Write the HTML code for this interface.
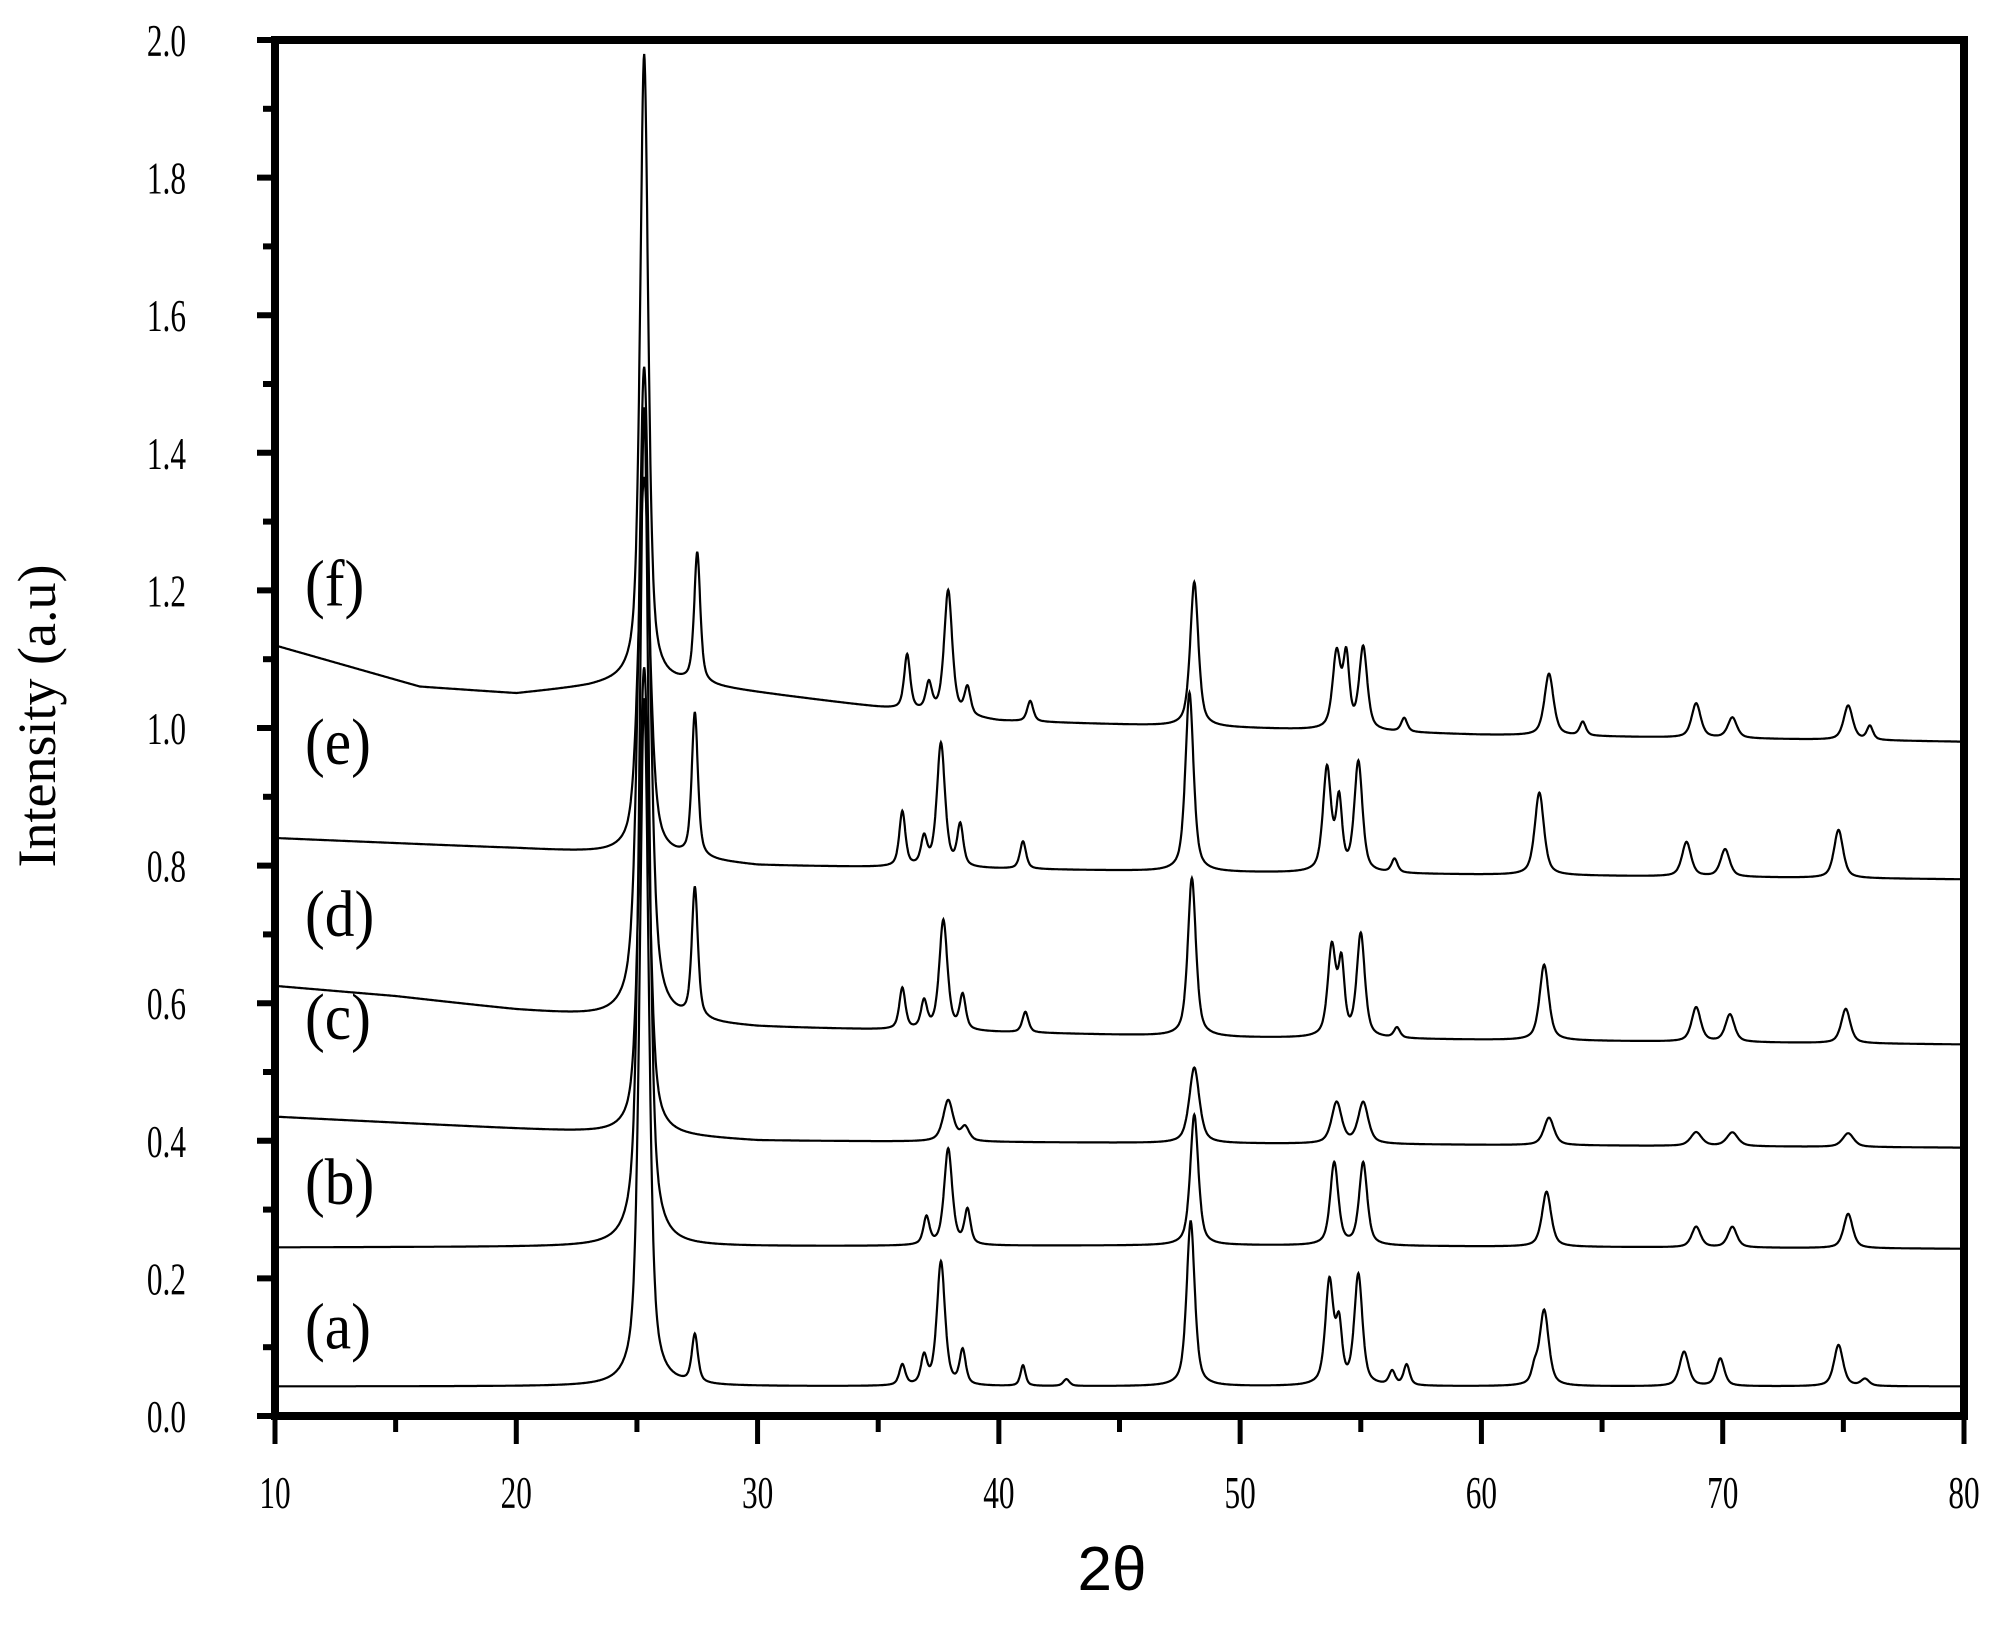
<!DOCTYPE html>
<html><head><meta charset="utf-8"><style>
html,body{margin:0;padding:0;background:#fff}
svg{display:block}
</style></head><body>
<svg id="chart" width="1996" height="1625" viewBox="0 0 1996 1625" xmlns="http://www.w3.org/2000/svg"></svg>
<script>
// ---- data ----
const seriesNames = ["a","b","c","d","e","f"];
const baseA = [[10,0.043],[80,0.043]];
const baseB = [[10,0.245],[50,0.248],[80,0.243]];
const baseC = [[10,0.435],[30,0.40],[80,0.39]];
const baseD = [[10,0.625],[15,0.61],[20,0.59],[25,0.575],[30,0.565],[50,0.55],[80,0.54]];
const baseE = [[10,0.84],[20,0.825],[25,0.815],[30,0.80],[50,0.79],[80,0.78]];
const baseF = [[10,1.12],[13,1.09],[16,1.06],[20,1.05],[23,1.06],[25,1.07],[28,1.06],[35,1.03],[40,1.01],[50,1.0],[60,0.99],[80,0.98]];
const peaksA = [[25.3,1.0,0.45],[27.4,0.07,0.3],[36.0,0.03,0.3],[36.9,0.04,0.3],[37.6,0.18,0.4],[38.5,0.05,0.3],[41.0,0.03,0.25],[42.8,0.01,0.3],[47.95,0.24,0.4],[53.7,0.15,0.4],[54.1,0.08,0.3],[54.9,0.16,0.4],[56.3,0.02,0.3],[56.9,0.03,0.3],[62.2,0.02,0.3],[62.6,0.11,0.45],[68.4,0.05,0.45],[69.9,0.04,0.4],[74.8,0.06,0.45],[75.9,0.01,0.4]];
const peaksB = [[25.3,1.22,0.45],[37.0,0.04,0.3],[37.9,0.14,0.4],[38.7,0.05,0.3],[48.1,0.19,0.4],[53.9,0.12,0.4],[55.1,0.12,0.4],[62.7,0.08,0.45],[68.9,0.03,0.45],[70.4,0.03,0.45],[75.2,0.05,0.45]];
const peaksC = [[25.3,0.68,0.5],[37.9,0.06,0.5],[38.6,0.02,0.4],[48.1,0.11,0.5],[54.0,0.06,0.5],[55.1,0.06,0.5],[62.8,0.04,0.5],[68.9,0.02,0.55],[70.4,0.02,0.55],[75.2,0.02,0.55]];
const peaksD = [[25.3,0.95,0.55],[27.4,0.19,0.3],[36.0,0.06,0.3],[36.9,0.04,0.3],[37.7,0.16,0.4],[38.5,0.05,0.3],[41.1,0.03,0.3],[48.0,0.23,0.4],[53.8,0.13,0.4],[54.2,0.10,0.3],[55.0,0.15,0.4],[56.5,0.015,0.3],[62.6,0.11,0.45],[68.9,0.05,0.45],[70.3,0.04,0.45],[75.1,0.05,0.45]];
const peaksE = [[25.3,0.55,0.55],[27.4,0.21,0.3],[36.0,0.08,0.3],[36.9,0.04,0.3],[37.6,0.18,0.4],[38.4,0.06,0.3],[41.0,0.04,0.3],[47.9,0.26,0.4],[53.6,0.15,0.4],[54.1,0.10,0.3],[54.9,0.16,0.4],[56.4,0.02,0.3],[62.4,0.12,0.45],[68.5,0.05,0.45],[70.1,0.04,0.45],[74.8,0.07,0.45]];
const peaksF = [[25.3,0.91,0.4],[27.5,0.19,0.3],[36.2,0.08,0.3],[37.1,0.04,0.3],[37.9,0.18,0.4],[38.7,0.04,0.3],[41.3,0.03,0.3],[48.1,0.21,0.4],[54.0,0.11,0.4],[54.4,0.10,0.3],[55.1,0.12,0.4],[56.8,0.02,0.3],[62.8,0.09,0.45],[64.2,0.02,0.3],[68.9,0.05,0.45],[70.4,0.03,0.45],[75.2,0.05,0.45],[76.1,0.02,0.3]];
const xTickLabels = ["10","20","30","40","50","60","70","80"];
const yTickLabels = ["0.0","0.2","0.4","0.6","0.8","1.0","1.2","1.4","1.6","1.8","2.0"];
const seriesLabels = ["(a)","(b)","(c)","(d)","(e)","(f)"];
const labelLevels = [0.13,0.34,0.58,0.73,0.98,1.21];

// ---- layout ----
const L=275,R=1964,T=40,B=1416;
const xMin=10,xMax=80,yMin=0,yMax=2;
const X=v=>L+(v-xMin)/(xMax-xMin)*(R-L);
const Y=v=>B-(v-yMin)/(yMax-yMin)*(B-T);
const svg=document.getElementById('chart');
const NS="http://www.w3.org/2000/svg";
function mk(tag,attrs){const e=document.createElementNS(NS,tag);for(const k in attrs)e.setAttribute(k,attrs[k]);svg.appendChild(e);return e;}

function interp(base,x){for(let i=0;i<base.length-1;i++){if(x<=base[i+1][0]){const t=(x-base[i][0])/(base[i+1][0]-base[i][0]);return base[i][1]+t*(base[i+1][1]-base[i][1]);}}return base[base.length-1][1];}
function val(base,peaks,x){let y=interp(base,x);for(const p of peaks){const g=p[2]/2;const d=x-p[0];y+=p[1]*(0.6*g*g/(d*d+g*g)+0.4*Math.exp(-Math.log(2)*d*d/(g*g)));}return y;}

const bases=[baseA,baseB,baseC,baseD,baseE,baseF];
const peaks=[peaksA,peaksB,peaksC,peaksD,peaksE,peaksF];
for(let s=0;s<6;s++){
  let d="";
  for(let x=xMin;x<=xMax+1e-9;x+=0.02){
    const y=Math.min(val(bases[s],peaks[s],x),1.985);
    d+=(d?"L":"M")+X(x).toFixed(1)+","+Y(y).toFixed(1);
  }
  const p=mk('path',{d:d,fill:'none',stroke:'#000','stroke-width':2.2});
  
  
  const t=mk('text',{x:0,y:0,'font-family':'Liberation Serif, serif','font-size':66,transform:`translate(305,${Y(labelLevels[s])+22}) scale(0.9,1)`});
  t.textContent=seriesLabels[s];
  
  
}

const fr=mk('rect',{x:L,y:T,width:R-L,height:B-T,fill:'none',stroke:'#000','stroke-width':8});



for(let i=0;i<=20;i++){
  const v=i*0.1,y=Y(v),len=(i%2==0)?18:12;
  const tk=mk('line',{x1:L-len,y1:y,x2:L,y2:y,stroke:'#000','stroke-width':6});
  
  
}
yTickLabels.forEach((s,i)=>{
  const t=mk('text',{x:0,y:0,'font-family':'Liberation Serif, serif','font-size':46,'text-anchor':'end',transform:`translate(186,${Y(i*0.2)+16}) scale(0.68,1)`});
  t.textContent=s;
  
  
});
for(let v=10;v<=80;v+=5){
  const len=(v%10==0)?28:16;
  const tk=mk('line',{x1:X(v),y1:B,x2:X(v),y2:B+len,stroke:'#000','stroke-width':5});
  
  
}
xTickLabels.forEach((s,i)=>{
  const t=mk('text',{x:0,y:0,'font-family':'Liberation Serif, serif','font-size':46,'text-anchor':'middle',transform:`translate(${X(10+i*10)},${1508}) scale(0.68,1)`});
  t.textContent=s;
  
  
});
const xt=mk('text',{x:1112,y:1590,'font-family':'Liberation Sans, sans-serif','font-size':62,'text-anchor':'middle'});
xt.textContent="2θ";


const yt=mk('text',{x:0,y:0,'font-family':'Liberation Serif, serif','font-size':54,'text-anchor':'middle',transform:'translate(55,716) rotate(-90)'});
yt.textContent="Intensity (a.u)";


</script>
</body></html>
